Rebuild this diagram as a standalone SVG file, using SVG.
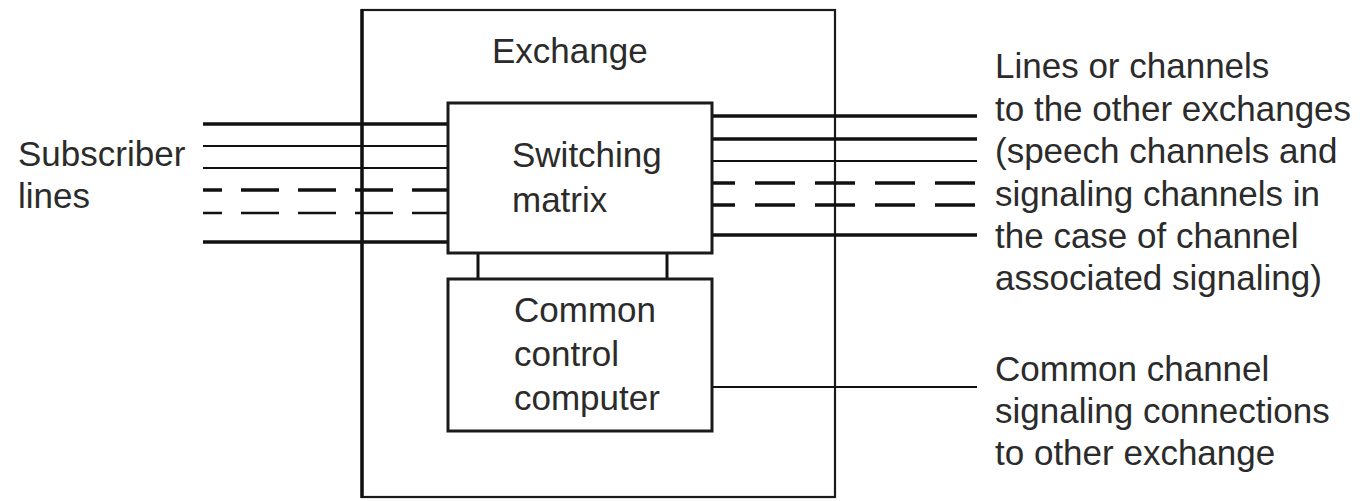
<svg xmlns="http://www.w3.org/2000/svg" width="1364" height="501" viewBox="0 0 1364 501">
<style>
  text { font-family: "Liberation Sans", Arial, sans-serif; font-size: 35px; fill: #2b2b2b; }
  .box { fill: #fff; stroke: #1a1a1a; stroke-width: 2.5; }
  .ln { stroke: #111; fill: none; }
  .thick { stroke-width: 3.5; }
  .thin { stroke-width: 2; }
  .dl { stroke-dasharray: 38 19; stroke-dashoffset: 19; }
  .dr { stroke-dasharray: 40 20; stroke-dashoffset: 17; }
</style>
<rect width="1364" height="501" fill="#fff"/>
<g id="exchange">
  <rect class="box" x="362" y="10" width="473" height="487" style="stroke-width:2.2"/>
  <line x1="362" y1="9" x2="362" y2="498" stroke="#111" stroke-width="3.5"/>
  <text x="492" y="63">Exchange</text>
</g>
<g id="connectors">
  <line class="ln thick" x1="203" y1="124" x2="448" y2="124"/>
  <line class="ln thin" x1="203" y1="146" x2="448" y2="146"/>
  <line class="ln thin" x1="203" y1="168" x2="448" y2="168"/>
  <line class="ln thick dl" x1="203" y1="190" x2="448" y2="190"/>
  <line class="ln dl" stroke-width="2.5" x1="203" y1="213" x2="448" y2="213"/>
  <line class="ln thick" x1="203" y1="242" x2="448" y2="242"/>
  <line class="ln thick" x1="712" y1="116" x2="977" y2="116"/>
  <line class="ln thick" x1="712" y1="139" x2="977" y2="139"/>
  <line class="ln thin" x1="712" y1="161" x2="977" y2="161"/>
  <line class="ln thick dr" x1="712" y1="183" x2="977" y2="183"/>
  <line class="ln thick dr" x1="712" y1="205" x2="977" y2="205"/>
  <line class="ln thick" x1="712" y1="235" x2="977" y2="235"/>
  <line class="ln" stroke-width="3" x1="478" y1="253" x2="478" y2="278"/>
  <line class="ln" stroke-width="3" x1="667" y1="253" x2="667" y2="278"/>
  <line class="ln thin" x1="712" y1="387" x2="977" y2="387"/>
</g>
<g id="switching-matrix">
  <rect class="box" x="448" y="103" width="264" height="150" style="stroke-width:3"/>
  <text x="512" y="167">Switching</text>
  <text x="512" y="212">matrix</text>
</g>
<g id="common-control">
  <rect class="box" x="448" y="279" width="264" height="152" style="stroke-width:3"/>
  <text x="514" y="322">Common</text>
  <text x="514" y="366">control</text>
  <text x="514" y="410">computer</text>
</g>
<g id="subscriber-label">
  <text x="18" y="166">Subscriber</text>
  <text x="18" y="208">lines</text>
</g>
<g id="lines-label">
  <text x="995" y="78">Lines or channels</text>
  <text x="995" y="120.5">to the other exchanges</text>
  <text x="995" y="163">(speech channels and</text>
  <text x="995" y="205.5">signaling channels in</text>
  <text x="995" y="248">the case of channel</text>
  <text x="995" y="290">associated signaling)</text>
</g>
<g id="ccs-label">
  <text x="995" y="381">Common channel</text>
  <text x="995" y="423">signaling connections</text>
  <text x="995" y="465">to other exchange</text>
</g>
</svg>
